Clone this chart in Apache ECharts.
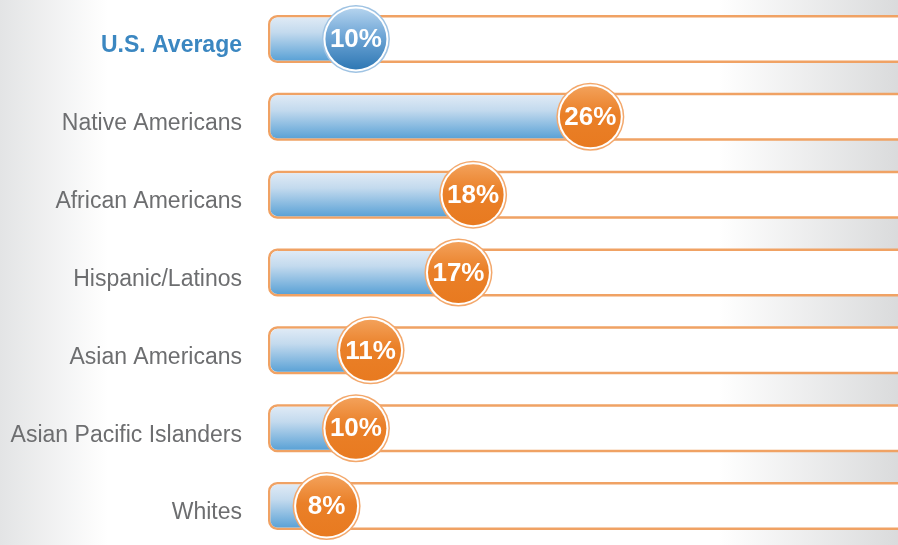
<!DOCTYPE html>
<html>
<head>
<meta charset="utf-8">
<script src="https://cdn.jsdelivr.net/npm/echarts@6/dist/echarts.min.js"></script>
<style>
html,body{margin:0;padding:0;background:#fff;}
#chart{width:898px;height:545px;}
</style>
</head>
<body>
<div id="chart"></div>
<script>
const categories = ['U.S. Average', 'Native Americans', 'African Americans', 'Hispanic/Latinos', 'Asian Americans', 'Asian Pacific Islanders', 'Whites'];
const values = [10, 26, 18, 17, 11, 10, 8];
const valueLabels = ['10%', '26%', '18%', '17%', '11%', '10%', '8%'];

const chart = echarts.init(document.getElementById('chart'), null, {renderer: 'canvas'});

const G = echarts.graphic;

function renderItem(params, api) {
  const idx = params.dataIndex;
  const c = api.coord([api.value(0), api.value(1)]);
  const cs = params.coordSys;
  const cx = c[0], cy = c[1];
  const left = cs.x;
  const th = 48;
  const isAvg = idx === 0;
  const trackColor = '#f0a264';
  const children = [
    {
      type: 'rect',
      shape: {x: left + 1.25, y: cy - th / 2 + 1.25, width: cs.width + 40, height: th - 2.5, r: 8},
      style: {fill: '#ffffff', stroke: trackColor, lineWidth: 2.5}
    },
    {
      type: 'rect',
      shape: {x: left + 2.5, y: cy - th / 2 + 2.5, width: cx - left - 2.5, height: th - 5, r: [7, 0, 0, 7]},
      style: {
        fill: new G.LinearGradient(0, 0, 0, 1, [
          {offset: 0, color: '#dfeaf5'},
          {offset: 0.35, color: '#c3daee'},
          {offset: 1, color: '#5ba2d6'}
        ])
      }
    }
  ];
  const R = 34;
  if (isAvg) {
    children.push(
      {type: 'circle', shape: {cx: cx, cy: cy, r: R}, style: {fill: '#9fc3e3'}},
      {type: 'circle', shape: {cx: cx, cy: cy, r: R - 1.5}, style: {fill: '#ffffff'}},
      {type: 'circle', shape: {cx: cx, cy: cy, r: R - 3.5}, style: {
        fill: new G.LinearGradient(0, 0, 0, 1, [
          {offset: 0, color: '#b4d3ee'},
          {offset: 0.45, color: '#6fa6d6'},
          {offset: 1, color: '#2f78b4'}
        ])
      }}
    );
  } else {
    children.push(
      {type: 'circle', shape: {cx: cx, cy: cy, r: R}, style: {fill: '#f3a86c'}},
      {type: 'circle', shape: {cx: cx, cy: cy, r: R - 1.5}, style: {fill: '#ffffff'}},
      {type: 'circle', shape: {cx: cx, cy: cy, r: R - 3.5}, style: {
        fill: new G.LinearGradient(0, 0, 0, 1, [
          {offset: 0, color: '#f3a15a'},
          {offset: 0.45, color: '#ea8028'},
          {offset: 1, color: '#e87a20'}
        ])
      }}
    );
  }
  children.push({
    type: 'text',
    style: {
      x: cx, y: cy + 1,
      text: valueLabels[idx],
      fill: '#ffffff',
      font: 'bold 26px "Liberation Sans", Arial, sans-serif',
      align: 'center',
      verticalAlign: 'middle'
    }
  });
  return {type: 'group', children: children};
}

const option = {
  animation: false,
  graphic: [{
    type: 'rect',
    left: 0, top: 0, z: -10,
    shape: {width: 898, height: 545},
    style: {
      fill: new G.LinearGradient(0, 0, 1, 0, [
        {offset: 0, color: '#e3e4e5'},
        {offset: 0.12, color: '#ffffff'},
        {offset: 0.8, color: '#ffffff'},
        {offset: 1, color: '#dadbdc'}
      ])
    }
  }],
  grid: {left: 268, right: 0, top: -0.5, height: 553, containLabel: false},
  xAxis: {
    type: 'value', min: 4, max: 47,
    show: false
  },
  yAxis: {
    type: 'category',
    inverse: true,
    data: categories,
    axisLine: {show: false},
    axisTick: {show: false},
    splitLine: {show: false},
    axisLabel: {
      margin: 26,
      padding: [14, 0, 0, 0],
      formatter: function (v, i) { return i === 0 ? '{avg|' + v + '}' : '{n|' + v + '}'; },
      rich: {
        avg: {fontFamily: '"Liberation Sans", Arial, sans-serif', fontSize: 23, fontWeight: 'bold', color: '#3b87c1'},
        n: {fontFamily: '"Liberation Sans", Arial, sans-serif', fontSize: 23, color: '#6d6e70'}
      }
    }
  },
  series: [{
    type: 'custom',
    renderItem: renderItem,
    clip: false,
    encode: {x: 0, y: 1},
    data: values.map((v, i) => [v, i])
  }]
};
chart.setOption(option);
</script>
</body>
</html>
